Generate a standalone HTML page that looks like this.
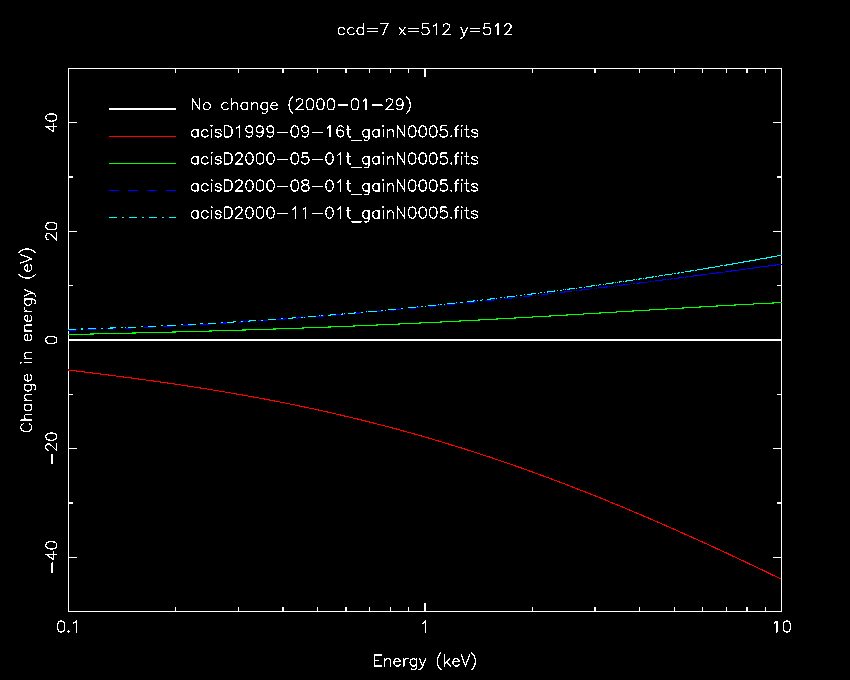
<!DOCTYPE html>
<html><head><meta charset="utf-8"><style>
html,body{margin:0;padding:0;background:#000;width:850px;height:680px;overflow:hidden;font-family:"Liberation Sans",sans-serif}
svg{display:block}
</style></head><body>
<svg width="850" height="680" viewBox="0 0 850 680">
<rect width="850" height="680" fill="#000"/>
<g fill="none" shape-rendering="crispEdges">
<path stroke="#fff" stroke-width="1.3" d="M68.42 68.4H781.58V611.6H68.42ZM175.76 611.6V607.36M175.76 68.4V72.64M238.55 611.6V607.36M238.55 68.4V72.64M283.1 611.6V607.36M283.1 68.4V72.64M317.66 611.6V607.36M317.66 68.4V72.64M345.89 611.6V607.36M345.89 68.4V72.64M369.77 611.6V607.36M369.77 68.4V72.64M390.44 611.6V607.36M390.44 68.4V72.64M408.68 611.6V607.36M408.68 68.4V72.64M425 611.6V603.11M425 68.4V76.89M532.34 611.6V607.36M532.34 68.4V72.64M595.13 611.6V607.36M595.13 68.4V72.64M639.68 611.6V607.36M639.68 68.4V72.64M674.24 611.6V607.36M674.24 68.4V72.64M702.47 611.6V607.36M702.47 68.4V72.64M726.35 611.6V607.36M726.35 68.4V72.64M747.02 611.6V607.36M747.02 68.4V72.64M765.26 611.6V607.36M765.26 68.4V72.64M68.42 557.28H76.91M781.58 557.28H773.09M68.42 502.96H72.66M781.58 502.96H777.34M68.42 448.64H76.91M781.58 448.64H773.09M68.42 394.32H72.66M781.58 394.32H777.34M68.42 340H76.91M781.58 340H773.09M68.42 285.68H72.66M781.58 285.68H777.34M68.42 231.36H76.91M781.58 231.36H773.09M68.42 177.04H72.66M781.58 177.04H777.34M68.42 122.72H76.91M781.58 122.72H773.09"/>
<path stroke="#fff" stroke-width="1.3" d="M68.42 340H781.58M109 109.1H176"/>
<path stroke="#f00" stroke-width="1.1" d="M68.42 370.03L70.42 370.27L72.42 370.52L74.42 370.76L76.42 371.01L78.42 371.25L80.42 371.5L82.42 371.75L84.42 372L86.42 372.24L88.42 372.49L90.42 372.74L92.42 372.99L94.42 373.24L96.42 373.5L98.42 373.75L100.42 374L102.42 374.25L104.42 374.51L106.42 374.76L108.42 375.02L110.42 375.28L112.42 375.53L114.42 375.79L116.42 376.05L118.42 376.31L120.42 376.57L122.42 376.83L124.42 377.1L126.42 377.36L128.42 377.62L130.42 377.89L132.42 378.16L134.42 378.42L136.42 378.69L138.42 378.96L140.42 379.24L142.42 379.51L144.42 379.78L146.42 380.06L148.42 380.33L150.42 380.61L152.42 380.89L154.42 381.17L156.42 381.45L158.42 381.73L160.42 382.01L162.42 382.3L164.42 382.59L166.42 382.87L168.42 383.16L170.42 383.45L172.42 383.74L174.42 384.04L176.42 384.33L178.42 384.63L180.42 384.93L182.42 385.23L184.42 385.53L186.42 385.83L188.42 386.13L190.42 386.44L192.42 386.75L194.42 387.06L196.42 387.37L198.42 387.68L200.42 387.99L202.42 388.31L204.42 388.63L206.42 388.94L208.42 389.27L210.42 389.59L212.42 389.91L214.42 390.24L216.42 390.57L218.42 390.9L220.42 391.23L222.42 391.56L224.42 391.9L226.42 392.23L228.42 392.57L230.42 392.91L232.42 393.26L234.42 393.6L236.42 393.95L238.42 394.3L240.42 394.65L242.42 395L244.42 395.36L246.42 395.71L248.42 396.07L250.42 396.43L252.42 396.8L254.42 397.16L256.42 397.53L258.42 397.9L260.42 398.27L262.42 398.64L264.42 399.02L266.42 399.4L268.42 399.78L270.42 400.16L272.42 400.54L274.42 400.93L276.42 401.32L278.42 401.71L280.42 402.1L282.42 402.5L284.42 402.9L286.42 403.3L288.42 403.7L290.42 404.1L292.42 404.51L294.42 404.92L296.42 405.33L298.42 405.74L300.42 406.16L302.42 406.58L304.42 407L306.42 407.42L308.42 407.85L310.42 408.28L312.42 408.71L314.42 409.14L316.42 409.58L318.42 410.01L320.42 410.45L322.42 410.9L324.42 411.34L326.42 411.79L328.42 412.24L330.42 412.69L332.42 413.15L334.42 413.6L336.42 414.06L338.42 414.53L340.42 414.99L342.42 415.46L344.42 415.93L346.42 416.4L348.42 416.88L350.42 417.35L352.42 417.83L354.42 418.32L356.42 418.8L358.42 419.29L360.42 419.78L362.42 420.27L364.42 420.77L366.42 421.27L368.42 421.77L370.42 422.27L372.42 422.78L374.42 423.29L376.42 423.8L378.42 424.31L380.42 424.83L382.42 425.35L384.42 425.87L386.42 426.39L388.42 426.92L390.42 427.45L392.42 427.98L394.42 428.52L396.42 429.06L398.42 429.6L400.42 430.14L402.42 430.69L404.42 431.24L406.42 431.79L408.42 432.34L410.42 432.9L412.42 433.46L414.42 434.02L416.42 434.58L418.42 435.15L420.42 435.72L422.42 436.29L424.42 436.87L426.42 437.45L428.42 438.03L430.42 438.61L432.42 439.2L434.42 439.79L436.42 440.38L438.42 440.97L440.42 441.57L442.42 442.17L444.42 442.78L446.42 443.38L448.42 443.99L450.42 444.6L452.42 445.21L454.42 445.83L456.42 446.45L458.42 447.07L460.42 447.7L462.42 448.32L464.42 448.95L466.42 449.59L468.42 450.22L470.42 450.86L472.42 451.5L474.42 452.14L476.42 452.79L478.42 453.44L480.42 454.09L482.42 454.74L484.42 455.4L486.42 456.06L488.42 456.72L490.42 457.39L492.42 458.06L494.42 458.73L496.42 459.4L498.42 460.08L500.42 460.76L502.42 461.44L504.42 462.12L506.42 462.81L508.42 463.5L510.42 464.19L512.42 464.89L514.42 465.58L516.42 466.28L518.42 466.99L520.42 467.69L522.42 468.4L524.42 469.11L526.42 469.82L528.42 470.54L530.42 471.26L532.42 471.98L534.42 472.7L536.42 473.43L538.42 474.16L540.42 474.89L542.42 475.62L544.42 476.36L546.42 477.1L548.42 477.84L550.42 478.59L552.42 479.33L554.42 480.08L556.42 480.84L558.42 481.59L560.42 482.35L562.42 483.11L564.42 483.87L566.42 484.63L568.42 485.4L570.42 486.17L572.42 486.94L574.42 487.72L576.42 488.5L578.42 489.28L580.42 490.06L582.42 490.84L584.42 491.63L586.42 492.42L588.42 493.21L590.42 494.01L592.42 494.8L594.42 495.6L596.42 496.4L598.42 497.21L600.42 498.01L602.42 498.82L604.42 499.63L606.42 500.45L608.42 501.26L610.42 502.08L612.42 502.9L614.42 503.72L616.42 504.55L618.42 505.37L620.42 506.2L622.42 507.04L624.42 507.87L626.42 508.71L628.42 509.54L630.42 510.38L632.42 511.23L634.42 512.07L636.42 512.92L638.42 513.77L640.42 514.62L642.42 515.47L644.42 516.33L646.42 517.19L648.42 518.05L650.42 518.91L652.42 519.77L654.42 520.64L656.42 521.51L658.42 522.38L660.42 523.25L662.42 524.13L664.42 525L666.42 525.88L668.42 526.76L670.42 527.64L672.42 528.53L674.42 529.41L676.42 530.3L678.42 531.19L680.42 532.08L682.42 532.98L684.42 533.87L686.42 534.77L688.42 535.67L690.42 536.57L692.42 537.47L694.42 538.38L696.42 539.28L698.42 540.19L700.42 541.1L702.42 542.01L704.42 542.92L706.42 543.84L708.42 544.75L710.42 545.67L712.42 546.59L714.42 547.51L716.42 548.44L718.42 549.36L720.42 550.29L722.42 551.21L724.42 552.14L726.42 553.07L728.42 554.01L730.42 554.94L732.42 555.87L734.42 556.81L736.42 557.75L738.42 558.69L740.42 559.63L742.42 560.57L744.42 561.51L746.42 562.46L748.42 563.4L750.42 564.35L752.42 565.3L754.42 566.25L756.42 567.2L758.42 568.15L760.42 569.11L762.42 570.06L764.42 571.02L766.42 571.97L768.42 572.93L770.42 573.89L772.42 574.85L774.42 575.81L776.42 576.77L778.42 577.73L780.42 578.7L781.58 579.26"/>
<path stroke="#f00" stroke-width="1.3" d="M109 136.2H176"/>
<path stroke="#0f0" stroke-width="1.1" d="M68.42 334.57L70.42 334.52L72.42 334.47L74.42 334.42L76.42 334.38L78.42 334.33L80.42 334.28L82.42 334.24L84.42 334.19L86.42 334.14L88.42 334.09L90.42 334.05L92.42 334L94.42 333.95L96.42 333.91L98.42 333.86L100.42 333.81L102.42 333.76L104.42 333.72L106.42 333.67L108.42 333.62L110.42 333.58L112.42 333.53L114.42 333.48L116.42 333.43L118.42 333.38L120.42 333.34L122.42 333.29L124.42 333.24L126.42 333.19L128.42 333.14L130.42 333.1L132.42 333.05L134.42 333L136.42 332.95L138.42 332.9L140.42 332.85L142.42 332.8L144.42 332.75L146.42 332.7L148.42 332.66L150.42 332.61L152.42 332.56L154.42 332.51L156.42 332.46L158.42 332.4L160.42 332.35L162.42 332.3L164.42 332.25L166.42 332.2L168.42 332.15L170.42 332.1L172.42 332.05L174.42 331.99L176.42 331.94L178.42 331.89L180.42 331.84L182.42 331.78L184.42 331.73L186.42 331.68L188.42 331.62L190.42 331.57L192.42 331.51L194.42 331.46L196.42 331.4L198.42 331.35L200.42 331.29L202.42 331.24L204.42 331.18L206.42 331.13L208.42 331.07L210.42 331.01L212.42 330.96L214.42 330.9L216.42 330.84L218.42 330.78L220.42 330.72L222.42 330.67L224.42 330.61L226.42 330.55L228.42 330.49L230.42 330.43L232.42 330.37L234.42 330.31L236.42 330.25L238.42 330.18L240.42 330.12L242.42 330.06L244.42 330L246.42 329.94L248.42 329.87L250.42 329.81L252.42 329.75L254.42 329.68L256.42 329.62L258.42 329.55L260.42 329.49L262.42 329.42L264.42 329.36L266.42 329.29L268.42 329.23L270.42 329.16L272.42 329.09L274.42 329.02L276.42 328.96L278.42 328.89L280.42 328.82L282.42 328.75L284.42 328.68L286.42 328.61L288.42 328.54L290.42 328.47L292.42 328.4L294.42 328.33L296.42 328.26L298.42 328.18L300.42 328.11L302.42 328.04L304.42 327.96L306.42 327.89L308.42 327.82L310.42 327.74L312.42 327.67L314.42 327.59L316.42 327.52L318.42 327.44L320.42 327.36L322.42 327.29L324.42 327.21L326.42 327.13L328.42 327.05L330.42 326.97L332.42 326.89L334.42 326.82L336.42 326.74L338.42 326.66L340.42 326.57L342.42 326.49L344.42 326.41L346.42 326.33L348.42 326.25L350.42 326.16L352.42 326.08L354.42 326L356.42 325.91L358.42 325.83L360.42 325.74L362.42 325.66L364.42 325.57L366.42 325.49L368.42 325.4L370.42 325.31L372.42 325.23L374.42 325.14L376.42 325.05L378.42 324.96L380.42 324.87L382.42 324.78L384.42 324.69L386.42 324.6L388.42 324.51L390.42 324.42L392.42 324.33L394.42 324.24L396.42 324.15L398.42 324.05L400.42 323.96L402.42 323.87L404.42 323.77L406.42 323.68L408.42 323.59L410.42 323.49L412.42 323.4L414.42 323.3L416.42 323.2L418.42 323.11L420.42 323.01L422.42 322.91L424.42 322.81L426.42 322.72L428.42 322.62L430.42 322.52L432.42 322.42L434.42 322.32L436.42 322.22L438.42 322.12L440.42 322.02L442.42 321.92L444.42 321.82L446.42 321.71L448.42 321.61L450.42 321.51L452.42 321.41L454.42 321.3L456.42 321.2L458.42 321.09L460.42 320.99L462.42 320.89L464.42 320.78L466.42 320.67L468.42 320.57L470.42 320.46L472.42 320.36L474.42 320.25L476.42 320.14L478.42 320.03L480.42 319.93L482.42 319.82L484.42 319.71L486.42 319.6L488.42 319.49L490.42 319.38L492.42 319.27L494.42 319.16L496.42 319.05L498.42 318.94L500.42 318.83L502.42 318.72L504.42 318.61L506.42 318.5L508.42 318.38L510.42 318.27L512.42 318.16L514.42 318.05L516.42 317.93L518.42 317.82L520.42 317.7L522.42 317.59L524.42 317.48L526.42 317.36L528.42 317.25L530.42 317.13L532.42 317.02L534.42 316.9L536.42 316.79L538.42 316.67L540.42 316.55L542.42 316.44L544.42 316.32L546.42 316.2L548.42 316.09L550.42 315.97L552.42 315.85L554.42 315.73L556.42 315.62L558.42 315.5L560.42 315.38L562.42 315.26L564.42 315.14L566.42 315.02L568.42 314.91L570.42 314.79L572.42 314.67L574.42 314.55L576.42 314.43L578.42 314.31L580.42 314.19L582.42 314.07L584.42 313.95L586.42 313.83L588.42 313.71L590.42 313.59L592.42 313.47L594.42 313.35L596.42 313.23L598.42 313.11L600.42 312.99L602.42 312.86L604.42 312.74L606.42 312.62L608.42 312.5L610.42 312.38L612.42 312.26L614.42 312.14L616.42 312.02L618.42 311.9L620.42 311.77L622.42 311.65L624.42 311.53L626.42 311.41L628.42 311.29L630.42 311.17L632.42 311.05L634.42 310.93L636.42 310.8L638.42 310.68L640.42 310.56L642.42 310.44L644.42 310.32L646.42 310.2L648.42 310.08L650.42 309.96L652.42 309.84L654.42 309.72L656.42 309.6L658.42 309.48L660.42 309.36L662.42 309.23L664.42 309.11L666.42 308.99L668.42 308.87L670.42 308.76L672.42 308.64L674.42 308.52L676.42 308.4L678.42 308.28L680.42 308.16L682.42 308.04L684.42 307.92L686.42 307.8L688.42 307.69L690.42 307.57L692.42 307.45L694.42 307.33L696.42 307.22L698.42 307.1L700.42 306.98L702.42 306.87L704.42 306.75L706.42 306.63L708.42 306.52L710.42 306.4L712.42 306.29L714.42 306.17L716.42 306.06L718.42 305.95L720.42 305.83L722.42 305.72L724.42 305.61L726.42 305.49L728.42 305.38L730.42 305.27L732.42 305.16L734.42 305.05L736.42 304.94L738.42 304.83L740.42 304.72L742.42 304.61L744.42 304.5L746.42 304.39L748.42 304.28L750.42 304.17L752.42 304.07L754.42 303.96L756.42 303.85L758.42 303.75L760.42 303.64L762.42 303.54L764.42 303.43L766.42 303.33L768.42 303.23L770.42 303.12L772.42 303.02L774.42 302.92L776.42 302.82L778.42 302.72L780.42 302.62L781.58 302.56"/>
<path stroke="#0f0" stroke-width="1.3" d="M109 163.3H176"/>
<path stroke="#00f" stroke-width="1.1" stroke-dasharray="10 9" d="M68.42 330.18L70.42 330.12L72.42 330.06L74.42 330L76.42 329.94L78.42 329.88L80.42 329.82L82.42 329.76L84.42 329.69L86.42 329.63L88.42 329.56L90.42 329.5L92.42 329.43L94.42 329.36L96.42 329.29L98.42 329.22L100.42 329.15L102.42 329.08L104.42 329L106.42 328.93L108.42 328.86L110.42 328.78L112.42 328.7L114.42 328.63L116.42 328.55L118.42 328.47L120.42 328.39L122.42 328.31L124.42 328.23L126.42 328.14L128.42 328.06L130.42 327.98L132.42 327.89L134.42 327.8L136.42 327.72L138.42 327.63L140.42 327.54L142.42 327.45L144.42 327.36L146.42 327.27L148.42 327.18L150.42 327.08L152.42 326.99L154.42 326.9L156.42 326.8L158.42 326.7L160.42 326.61L162.42 326.51L164.42 326.41L166.42 326.31L168.42 326.21L170.42 326.11L172.42 326.01L174.42 325.9L176.42 325.8L178.42 325.69L180.42 325.59L182.42 325.48L184.42 325.38L186.42 325.27L188.42 325.16L190.42 325.05L192.42 324.94L194.42 324.83L196.42 324.72L198.42 324.6L200.42 324.49L202.42 324.37L204.42 324.26L206.42 324.14L208.42 324.03L210.42 323.91L212.42 323.79L214.42 323.67L216.42 323.55L218.42 323.43L220.42 323.31L222.42 323.19L224.42 323.06L226.42 322.94L228.42 322.81L230.42 322.69L232.42 322.56L234.42 322.43L236.42 322.31L238.42 322.18L240.42 322.05L242.42 321.92L244.42 321.79L246.42 321.65L248.42 321.52L250.42 321.39L252.42 321.25L254.42 321.12L256.42 320.98L258.42 320.85L260.42 320.71L262.42 320.57L264.42 320.43L266.42 320.29L268.42 320.15L270.42 320.01L272.42 319.87L274.42 319.73L276.42 319.58L278.42 319.44L280.42 319.3L282.42 319.15L284.42 319L286.42 318.86L288.42 318.71L290.42 318.56L292.42 318.41L294.42 318.26L296.42 318.11L298.42 317.96L300.42 317.81L302.42 317.66L304.42 317.5L306.42 317.35L308.42 317.19L310.42 317.04L312.42 316.88L314.42 316.72L316.42 316.57L318.42 316.41L320.42 316.25L322.42 316.09L324.42 315.93L326.42 315.77L328.42 315.61L330.42 315.44L332.42 315.28L334.42 315.12L336.42 314.95L338.42 314.79L340.42 314.62L342.42 314.45L344.42 314.28L346.42 314.12L348.42 313.95L350.42 313.78L352.42 313.61L354.42 313.44L356.42 313.27L358.42 313.09L360.42 312.92L362.42 312.75L364.42 312.57L366.42 312.4L368.42 312.22L370.42 312.05L372.42 311.87L374.42 311.69L376.42 311.51L378.42 311.33L380.42 311.15L382.42 310.97L384.42 310.79L386.42 310.61L388.42 310.43L390.42 310.25L392.42 310.06L394.42 309.88L396.42 309.69L398.42 309.51L400.42 309.32L402.42 309.14L404.42 308.95L406.42 308.76L408.42 308.57L410.42 308.38L412.42 308.19L414.42 308L416.42 307.81L418.42 307.62L420.42 307.43L422.42 307.23L424.42 307.04L426.42 306.85L428.42 306.65L430.42 306.46L432.42 306.26L434.42 306.06L436.42 305.87L438.42 305.67L440.42 305.47L442.42 305.27L444.42 305.07L446.42 304.87L448.42 304.67L450.42 304.47L452.42 304.26L454.42 304.06L456.42 303.86L458.42 303.66L460.42 303.45L462.42 303.25L464.42 303.04L466.42 302.83L468.42 302.63L470.42 302.42L472.42 302.21L474.42 302L476.42 301.79L478.42 301.58L480.42 301.37L482.42 301.16L484.42 300.95L486.42 300.74L488.42 300.53L490.42 300.31L492.42 300.1L494.42 299.89L496.42 299.67L498.42 299.46L500.42 299.24L502.42 299.02L504.42 298.81L506.42 298.59L508.42 298.37L510.42 298.15L512.42 297.93L514.42 297.71L516.42 297.49L518.42 297.27L520.42 297.05L522.42 296.83L524.42 296.61L526.42 296.38L528.42 296.16L530.42 295.94L532.42 295.71L534.42 295.49L536.42 295.26L538.42 295.04L540.42 294.81L542.42 294.58L544.42 294.35L546.42 294.13L548.42 293.9L550.42 293.67L552.42 293.44L554.42 293.21L556.42 292.98L558.42 292.75L560.42 292.51L562.42 292.28L564.42 292.05L566.42 291.82L568.42 291.58L570.42 291.35L572.42 291.11L574.42 290.88L576.42 290.64L578.42 290.41L580.42 290.17L582.42 289.93L584.42 289.69L586.42 289.46L588.42 289.22L590.42 288.98L592.42 288.74L594.42 288.5L596.42 288.26L598.42 288.02L600.42 287.78L602.42 287.53L604.42 287.29L606.42 287.05L608.42 286.81L610.42 286.56L612.42 286.32L614.42 286.07L616.42 285.83L618.42 285.58L620.42 285.34L622.42 285.09L624.42 284.84L626.42 284.6L628.42 284.35L630.42 284.1L632.42 283.85L634.42 283.6L636.42 283.35L638.42 283.1L640.42 282.85L642.42 282.6L644.42 282.35L646.42 282.1L648.42 281.85L650.42 281.59L652.42 281.34L654.42 281.09L656.42 280.83L658.42 280.58L660.42 280.32L662.42 280.07L664.42 279.81L666.42 279.56L668.42 279.3L670.42 279.04L672.42 278.79L674.42 278.53L676.42 278.27L678.42 278.01L680.42 277.75L682.42 277.49L684.42 277.23L686.42 276.97L688.42 276.71L690.42 276.45L692.42 276.19L694.42 275.93L696.42 275.67L698.42 275.41L700.42 275.14L702.42 274.88L704.42 274.62L706.42 274.35L708.42 274.09L710.42 273.82L712.42 273.56L714.42 273.29L716.42 273.03L718.42 272.76L720.42 272.49L722.42 272.23L724.42 271.96L726.42 271.69L728.42 271.42L730.42 271.16L732.42 270.89L734.42 270.62L736.42 270.35L738.42 270.08L740.42 269.81L742.42 269.54L744.42 269.27L746.42 269L748.42 268.73L750.42 268.45L752.42 268.18L754.42 267.91L756.42 267.64L758.42 267.36L760.42 267.09L762.42 266.82L764.42 266.54L766.42 266.27L768.42 265.99L770.42 265.72L772.42 265.44L774.42 265.17L776.42 264.89L778.42 264.61L780.42 264.34L781.58 264.18"/>
<path stroke="#00f" stroke-width="1.3" stroke-dasharray="10 9" d="M109 190.4H176"/>
<path stroke="#00f" stroke-width="1.3" d="M68 330.5h1M125 328.5h1M167 326.5h1M200 324.5h1M227 322.5h1M250 321.5h1M271 319.5h1M288 318.5h1M304 317.5h1M319 316.5h1M332 315.5h1M344 314.5h1M355 313.5h1M366 312.5h1M376 311.5h1M385 310.5h1M394 309.5h1M402 309.5h1M410 308.5h1M417 307.5h1M425 306.5h1M431 306.5h1M438 305.5h1M444 305.5h1M450 304.5h1M456 303.5h1M462 303.5h1M467 302.5h1M472 302.5h1M477 301.5h1M482 301.5h1M487 300.5h1M491 300.5h1M496 299.5h1M500 299.5h1M504 298.5h1M508 298.5h1M512 297.5h1M516 297.5h1M520 297.5h1M524 296.5h1M528 296.5h1M531 295.5h1M535 295.5h1M538 295.5h1M541 294.5h1M544 294.5h1M548 293.5h1M551 293.5h1M554 293.5h1M557 292.5h1M560 292.5h1M563 292.5h1M565 291.5h1M568 291.5h1M571 291.5h1M574 290.5h1M576 290.5h1M579 290.5h1M581 289.5h1M584 289.5h1M586 289.5h1M589 289.5h1M591 288.5h1M594 288.5h1M596 288.5h1M598 287.5h1M600 287.5h1M603 287.5h1M605 287.5h1M607 286.5h1M609 286.5h1M611 286.5h1M613 286.5h1M615 285.5h1M617 285.5h1M619 285.5h1M621 285.5h1M623 284.5h1M625 284.5h1M627 284.5h1M629 284.5h1M631 283.5h1M633 283.5h1M634 283.5h1M636 283.5h1M638 283.5h1M640 282.5h1M641 282.5h1M643 282.5h1M645 282.5h1M647 282.5h1M648 281.5h1M650 281.5h1M651 281.5h1M653 281.5h1M655 280.5h1M656 280.5h1M658 280.5h1M659 280.5h1M661 280.5h1M662 280.5h1M664 279.5h1M665 279.5h1M667 279.5h1M668 279.5h1M670 279.5h1M671 278.5h1M672 278.5h1M674 278.5h1M675 278.5h1M677 278.5h1M678 277.5h1M679 277.5h1M681 277.5h1M682 277.5h1M683 277.5h1M685 277.5h1M686 276.5h1M687 276.5h1M688 276.5h1M690 276.5h1M691 276.5h1M692 276.5h1M693 275.5h1M695 275.5h1M696 275.5h1M697 275.5h1M698 275.5h1M700 275.5h1M701 275.5h1M702 274.5h1M703 274.5h1M704 274.5h1M705 274.5h1M706 274.5h1M708 274.5h1M709 273.5h1M710 273.5h1M711 273.5h1M712 273.5h1M713 273.5h1M714 273.5h1M715 273.5h1M716 272.5h1M717 272.5h1M718 272.5h1M719 272.5h1M720 272.5h1M721 272.5h1M722 272.5h1M724 272.5h1M725 271.5h1M726 271.5h1M727 271.5h1M727 271.5h1M728 271.5h1M729 271.5h1M730 271.5h1M731 270.5h1M732 270.5h1M733 270.5h1M734 270.5h1M735 270.5h1M736 270.5h1M737 270.5h1M738 270.5h1M739 269.5h1M740 269.5h1M741 269.5h1M742 269.5h1M743 269.5h1M743 269.5h1M744 269.5h1M745 269.5h1M746 268.5h1M747 268.5h1M748 268.5h1M749 268.5h1M749 268.5h1M750 268.5h1M751 268.5h1M752 268.5h1M753 268.5h1M754 267.5h1M755 267.5h1M755 267.5h1M756 267.5h1M757 267.5h1M758 267.5h1M759 267.5h1M759 267.5h1M760 267.5h1M761 266.5h1M762 266.5h1M763 266.5h1M763 266.5h1M764 266.5h1M765 266.5h1M766 266.5h1M766 266.5h1M767 266.5h1M768 265.5h1M769 265.5h1M770 265.5h1M770 265.5h1M771 265.5h1M772 265.5h1M772 265.5h1M773 265.5h1M774 265.5h1M775 265.5h1M775 264.5h1M776 264.5h1M777 264.5h1M778 264.5h1M778 264.5h1M779 264.5h1M780 264.5h1M780 264.5h1M781 264.5h1"/>
<path stroke="#0ff" stroke-width="1.1" stroke-dasharray="8 5 2 5" d="M68.42 329.4L70.42 329.35L72.42 329.29L74.42 329.23L76.42 329.17L78.42 329.12L80.42 329.06L82.42 328.99L84.42 328.93L86.42 328.87L88.42 328.81L90.42 328.74L92.42 328.68L94.42 328.61L96.42 328.55L98.42 328.48L100.42 328.41L102.42 328.34L104.42 328.27L106.42 328.2L108.42 328.13L110.42 328.06L112.42 327.98L114.42 327.91L116.42 327.84L118.42 327.76L120.42 327.68L122.42 327.61L124.42 327.53L126.42 327.45L128.42 327.37L130.42 327.29L132.42 327.21L134.42 327.13L136.42 327.04L138.42 326.96L140.42 326.87L142.42 326.79L144.42 326.7L146.42 326.62L148.42 326.53L150.42 326.44L152.42 326.35L154.42 326.26L156.42 326.17L158.42 326.08L160.42 325.98L162.42 325.89L164.42 325.8L166.42 325.7L168.42 325.6L170.42 325.51L172.42 325.41L174.42 325.31L176.42 325.21L178.42 325.11L180.42 325.01L182.42 324.91L184.42 324.8L186.42 324.7L188.42 324.6L190.42 324.49L192.42 324.39L194.42 324.28L196.42 324.17L198.42 324.06L200.42 323.95L202.42 323.84L204.42 323.73L206.42 323.62L208.42 323.51L210.42 323.39L212.42 323.28L214.42 323.16L216.42 323.05L218.42 322.93L220.42 322.81L222.42 322.69L224.42 322.57L226.42 322.45L228.42 322.33L230.42 322.21L232.42 322.09L234.42 321.96L236.42 321.84L238.42 321.71L240.42 321.59L242.42 321.46L244.42 321.33L246.42 321.2L248.42 321.07L250.42 320.94L252.42 320.81L254.42 320.68L256.42 320.55L258.42 320.41L260.42 320.28L262.42 320.14L264.42 320.01L266.42 319.87L268.42 319.73L270.42 319.59L272.42 319.45L274.42 319.31L276.42 319.17L278.42 319.03L280.42 318.89L282.42 318.74L284.42 318.6L286.42 318.45L288.42 318.3L290.42 318.16L292.42 318.01L294.42 317.86L296.42 317.71L298.42 317.56L300.42 317.41L302.42 317.25L304.42 317.1L306.42 316.95L308.42 316.79L310.42 316.64L312.42 316.48L314.42 316.32L316.42 316.16L318.42 316L320.42 315.84L322.42 315.68L324.42 315.52L326.42 315.36L328.42 315.19L330.42 315.03L332.42 314.86L334.42 314.7L336.42 314.53L338.42 314.36L340.42 314.19L342.42 314.02L344.42 313.85L346.42 313.68L348.42 313.51L350.42 313.34L352.42 313.16L354.42 312.99L356.42 312.81L358.42 312.63L360.42 312.46L362.42 312.28L364.42 312.1L366.42 311.92L368.42 311.74L370.42 311.56L372.42 311.37L374.42 311.19L376.42 311.01L378.42 310.82L380.42 310.63L382.42 310.45L384.42 310.26L386.42 310.07L388.42 309.88L390.42 309.69L392.42 309.5L394.42 309.31L396.42 309.11L398.42 308.92L400.42 308.72L402.42 308.53L404.42 308.33L406.42 308.13L408.42 307.94L410.42 307.74L412.42 307.54L414.42 307.34L416.42 307.13L418.42 306.93L420.42 306.73L422.42 306.52L424.42 306.32L426.42 306.11L428.42 305.9L430.42 305.7L432.42 305.49L434.42 305.28L436.42 305.07L438.42 304.86L440.42 304.64L442.42 304.43L444.42 304.22L446.42 304L448.42 303.78L450.42 303.57L452.42 303.35L454.42 303.13L456.42 302.91L458.42 302.69L460.42 302.47L462.42 302.25L464.42 302.03L466.42 301.8L468.42 301.58L470.42 301.35L472.42 301.12L474.42 300.9L476.42 300.67L478.42 300.44L480.42 300.21L482.42 299.98L484.42 299.75L486.42 299.51L488.42 299.28L490.42 299.05L492.42 298.81L494.42 298.57L496.42 298.34L498.42 298.1L500.42 297.86L502.42 297.62L504.42 297.38L506.42 297.14L508.42 296.89L510.42 296.65L512.42 296.41L514.42 296.16L516.42 295.91L518.42 295.67L520.42 295.42L522.42 295.17L524.42 294.92L526.42 294.67L528.42 294.42L530.42 294.17L532.42 293.91L534.42 293.66L536.42 293.4L538.42 293.15L540.42 292.89L542.42 292.63L544.42 292.37L546.42 292.11L548.42 291.85L550.42 291.59L552.42 291.33L554.42 291.07L556.42 290.8L558.42 290.54L560.42 290.27L562.42 290L564.42 289.74L566.42 289.47L568.42 289.2L570.42 288.93L572.42 288.66L574.42 288.38L576.42 288.11L578.42 287.84L580.42 287.56L582.42 287.29L584.42 287.01L586.42 286.73L588.42 286.45L590.42 286.17L592.42 285.89L594.42 285.61L596.42 285.33L598.42 285.04L600.42 284.76L602.42 284.48L604.42 284.19L606.42 283.9L608.42 283.61L610.42 283.33L612.42 283.04L614.42 282.75L616.42 282.45L618.42 282.16L620.42 281.87L622.42 281.57L624.42 281.28L626.42 280.98L628.42 280.69L630.42 280.39L632.42 280.09L634.42 279.79L636.42 279.49L638.42 279.19L640.42 278.89L642.42 278.58L644.42 278.28L646.42 277.97L648.42 277.67L650.42 277.36L652.42 277.05L654.42 276.74L656.42 276.43L658.42 276.12L660.42 275.81L662.42 275.5L664.42 275.18L666.42 274.87L668.42 274.55L670.42 274.24L672.42 273.92L674.42 273.6L676.42 273.28L678.42 272.96L680.42 272.64L682.42 272.32L684.42 272L686.42 271.67L688.42 271.35L690.42 271.02L692.42 270.7L694.42 270.37L696.42 270.04L698.42 269.71L700.42 269.38L702.42 269.05L704.42 268.72L706.42 268.39L708.42 268.05L710.42 267.72L712.42 267.38L714.42 267.04L716.42 266.71L718.42 266.37L720.42 266.03L722.42 265.69L724.42 265.35L726.42 265L728.42 264.66L730.42 264.32L732.42 263.97L734.42 263.62L736.42 263.28L738.42 262.93L740.42 262.58L742.42 262.23L744.42 261.88L746.42 261.53L748.42 261.18L750.42 260.82L752.42 260.47L754.42 260.11L756.42 259.76L758.42 259.4L760.42 259.04L762.42 258.68L764.42 258.32L766.42 257.96L768.42 257.6L770.42 257.23L772.42 256.87L774.42 256.5L776.42 256.14L778.42 255.77L780.42 255.4L781.58 255.19"/>
<path stroke="#0ff" stroke-width="1.3" d="M68 329.5h1M125 327.5h1M167 325.5h1M200 323.5h1M227 322.5h1M250 320.5h1M271 319.5h1M288 318.5h1M304 317.5h1M319 315.5h1M332 314.5h1M344 313.5h1M355 312.5h1M366 311.5h1M376 311.5h1M385 310.5h1M394 309.5h1M402 308.5h1M410 307.5h1M417 306.5h1M425 306.5h1M431 305.5h1M438 304.5h1M444 304.5h1M450 303.5h1M456 302.5h1M462 302.5h1M467 301.5h1M472 301.5h1M477 300.5h1M482 299.5h1M487 299.5h1M491 298.5h1M496 298.5h1M500 297.5h1M504 297.5h1M508 296.5h1M512 296.5h1M516 295.5h1M520 295.5h1M524 294.5h1M528 294.5h1M531 294.5h1M535 293.5h1M538 293.5h1M541 292.5h1M544 292.5h1M548 291.5h1M551 291.5h1M554 291.5h1M557 290.5h1M560 290.5h1M563 289.5h1M565 289.5h1M568 289.5h1M571 288.5h1M574 288.5h1M576 288.5h1M579 287.5h1M581 287.5h1M584 287.5h1M586 286.5h1M589 286.5h1M591 285.5h1M594 285.5h1M596 285.5h1M598 285.5h1M600 284.5h1M603 284.5h1M605 284.5h1M607 283.5h1M609 283.5h1M611 283.5h1M613 282.5h1M615 282.5h1M617 282.5h1M619 281.5h1M621 281.5h1M623 281.5h1M625 281.5h1M627 280.5h1M629 280.5h1M631 280.5h1M633 279.5h1M634 279.5h1M636 279.5h1M638 279.5h1M640 278.5h1M641 278.5h1M643 278.5h1M645 278.5h1M647 277.5h1M648 277.5h1M650 277.5h1M651 277.5h1M653 276.5h1M655 276.5h1M656 276.5h1M658 276.5h1M659 275.5h1M661 275.5h1M662 275.5h1M664 275.5h1M665 274.5h1M667 274.5h1M668 274.5h1M670 274.5h1M671 274.5h1M672 273.5h1M674 273.5h1M675 273.5h1M677 273.5h1M678 272.5h1M679 272.5h1M681 272.5h1M682 272.5h1M683 272.5h1M685 271.5h1M686 271.5h1M687 271.5h1M688 271.5h1M690 271.5h1M691 270.5h1M692 270.5h1M693 270.5h1M695 270.5h1M696 270.5h1M697 269.5h1M698 269.5h1M700 269.5h1M701 269.5h1M702 269.5h1M703 268.5h1M704 268.5h1M705 268.5h1M706 268.5h1M708 268.5h1M709 267.5h1M710 267.5h1M711 267.5h1M712 267.5h1M713 267.5h1M714 267.5h1M715 266.5h1M716 266.5h1M717 266.5h1M718 266.5h1M719 266.5h1M720 265.5h1M721 265.5h1M722 265.5h1M724 265.5h1M725 265.5h1M726 265.5h1M727 264.5h1M727 264.5h1M728 264.5h1M729 264.5h1M730 264.5h1M731 264.5h1M732 263.5h1M733 263.5h1M734 263.5h1M735 263.5h1M736 263.5h1M737 263.5h1M738 262.5h1M739 262.5h1M740 262.5h1M741 262.5h1M742 262.5h1M743 262.5h1M743 261.5h1M744 261.5h1M745 261.5h1M746 261.5h1M747 261.5h1M748 261.5h1M749 261.5h1M749 260.5h1M750 260.5h1M751 260.5h1M752 260.5h1M753 260.5h1M754 260.5h1M755 260.5h1M755 259.5h1M756 259.5h1M757 259.5h1M758 259.5h1M759 259.5h1M759 259.5h1M760 258.5h1M761 258.5h1M762 258.5h1M763 258.5h1M763 258.5h1M764 258.5h1M765 258.5h1M766 257.5h1M766 257.5h1M767 257.5h1M768 257.5h1M769 257.5h1M770 257.5h1M770 257.5h1M771 257.5h1M772 256.5h1M772 256.5h1M773 256.5h1M774 256.5h1M775 256.5h1M775 256.5h1M776 256.5h1M777 255.5h1M778 255.5h1M778 255.5h1M779 255.5h1M780 255.5h1M780 255.5h1M781 255.5h1"/>
<path stroke="#0ff" stroke-width="1.3" stroke-dasharray="8 5 2 5" d="M109 217.5H176"/>
<path stroke="#fff" stroke-width="1.3" stroke-linecap="round" stroke-linejoin="round" d="M344.61 29.06L343.57 28.01L342.52 27.49L340.96 27.49L339.91 28.01L338.87 29.06L338.35 30.62L338.35 31.67L338.87 33.23L339.91 34.28L340.96 34.8L342.52 34.8L343.57 34.28L344.61 33.23M354.01 29.06L352.96 28.01L351.92 27.49L350.35 27.49L349.31 28.01L348.27 29.06L347.74 30.62L347.74 31.67L348.27 33.23L349.31 34.28L350.35 34.8L351.92 34.8L352.96 34.28L354.01 33.23M363.4 23.84L363.4 34.8M363.4 29.06L362.36 28.01L361.32 27.49L359.75 27.49L358.71 28.01L357.66 29.06L357.14 30.62L357.14 31.67L357.66 33.23L358.71 34.28L359.75 34.8L361.32 34.8L362.36 34.28L363.4 33.23M367.58 28.54L376.98 28.54M367.58 31.67L376.98 31.67M387.94 23.84L382.72 34.8M380.63 23.84L387.94 23.84M399.42 27.49L405.16 34.8M405.16 27.49L399.42 34.8M408.82 28.54L418.21 28.54M408.82 31.67L418.21 31.67M428.13 23.84L422.91 23.84L422.39 28.54L422.91 28.01L424.48 27.49L426.04 27.49L427.61 28.01L428.65 29.06L429.18 30.62L429.18 31.67L428.65 33.23L427.61 34.28L426.04 34.8L424.48 34.8L422.91 34.28L422.39 33.76L421.87 32.71M433.87 25.93L434.92 25.4L436.48 23.84L436.48 34.8M443.27 26.45L443.27 25.93L443.79 24.88L444.31 24.36L445.36 23.84L447.45 23.84L448.49 24.36L449.01 24.88L449.53 25.93L449.53 26.97L449.01 28.01L447.97 29.58L442.75 34.8L450.06 34.8M461.02 27.49L464.15 34.8M467.28 27.49L464.15 34.8L463.11 36.89L462.06 37.93L461.02 38.45L460.5 38.45M470.41 28.54L479.81 28.54M470.41 31.67L479.81 31.67M489.73 23.84L484.51 23.84L483.99 28.54L484.51 28.01L486.07 27.49L487.64 27.49L489.21 28.01L490.25 29.06L490.77 30.62L490.77 31.67L490.25 33.23L489.21 34.28L487.64 34.8L486.07 34.8L484.51 34.28L483.99 33.76L483.46 32.71M495.47 25.93L496.51 25.4L498.08 23.84L498.08 34.8M504.87 26.45L504.87 25.93L505.39 24.88L505.91 24.36L506.95 23.84L509.04 23.84L510.09 24.36L510.61 24.88L511.13 25.93L511.13 26.97L510.61 28.01L509.56 29.58L504.34 34.8L511.65 34.8M374.63 655.04L374.63 666M374.63 655.04L381.41 655.04M374.63 660.26L378.8 660.26M374.63 666L381.41 666M384.55 658.69L384.55 666M384.55 660.78L386.11 659.21L387.15 658.69L388.72 658.69L389.76 659.21L390.29 660.78L390.29 666M393.94 661.82L400.2 661.82L400.2 660.78L399.68 659.74L399.16 659.21L398.12 658.69L396.55 658.69L395.51 659.21L394.46 660.26L393.94 661.82L393.94 662.87L394.46 664.43L395.51 665.48L396.55 666L398.12 666L399.16 665.48L400.2 664.43M403.86 658.69L403.86 666M403.86 661.82L404.38 660.26L405.43 659.21L406.47 658.69L408.04 658.69M416.39 658.69L416.39 667.04L415.87 668.61L415.34 669.13L414.3 669.65L412.73 669.65L411.69 669.13M416.39 660.26L415.34 659.21L414.3 658.69L412.73 658.69L411.69 659.21L410.64 660.26L410.12 661.82L410.12 662.87L410.64 664.43L411.69 665.48L412.73 666L414.3 666L415.34 665.48L416.39 664.43M419.52 658.69L422.65 666M425.78 658.69L422.65 666L421.61 668.09L420.56 669.13L419.52 669.65L419 669.65M440.92 652.95L439.88 653.99L438.83 655.56L437.79 657.65L437.27 660.26L437.27 662.35L437.79 664.96L438.83 667.04L439.88 668.61L440.92 669.65M444.57 655.04L444.57 666M449.8 658.69L444.57 663.91M446.66 661.82L450.32 666M452.93 661.82L459.19 661.82L459.19 660.78L458.67 659.74L458.15 659.21L457.1 658.69L455.54 658.69L454.49 659.21L453.45 660.26L452.93 661.82L452.93 662.87L453.45 664.43L454.49 665.48L455.54 666L457.1 666L458.15 665.48L459.19 664.43M461.28 655.04L465.45 666M469.63 655.04L465.45 666M471.72 652.95L472.76 653.99L473.81 655.56L474.85 657.65L475.37 660.26L475.37 662.35L474.85 664.96L473.81 667.04L472.76 668.61L471.72 669.65M23.45 423.78L22.4 424.3L21.36 425.35L20.84 426.39L20.84 428.48L21.36 429.52L22.4 430.57L23.45 431.09L25.01 431.61L27.62 431.61L29.19 431.09L30.23 430.57L31.28 429.52L31.8 428.48L31.8 426.39L31.28 425.35L30.23 424.3L29.19 423.78M20.84 420.13L31.8 420.13M26.58 420.13L25.01 418.56L24.49 417.52L24.49 415.95L25.01 414.91L26.58 414.38L31.8 414.38M24.49 404.47L31.8 404.47M26.06 404.47L25.01 405.51L24.49 406.56L24.49 408.12L25.01 409.17L26.06 410.21L27.62 410.73L28.67 410.73L30.23 410.21L31.28 409.17L31.8 408.12L31.8 406.56L31.28 405.51L30.23 404.47M24.49 400.29L31.8 400.29M26.58 400.29L25.01 398.73L24.49 397.68L24.49 396.12L25.01 395.07L26.58 394.55L31.8 394.55M24.49 384.63L32.84 384.63L34.41 385.15L34.93 385.68L35.45 386.72L35.45 388.29L34.93 389.33M26.06 384.63L25.01 385.68L24.49 386.72L24.49 388.29L25.01 389.33L26.06 390.37L27.62 390.89L28.67 390.89L30.23 390.37L31.28 389.33L31.8 388.29L31.8 386.72L31.28 385.68L30.23 384.63M27.62 380.98L27.62 374.71L26.58 374.71L25.54 375.24L25.01 375.76L24.49 376.8L24.49 378.37L25.01 379.41L26.06 380.45L27.62 380.98L28.67 380.98L30.23 380.45L31.28 379.41L31.8 378.37L31.8 376.8L31.28 375.76L30.23 374.71M20.84 363.23L21.36 362.71L20.84 362.19L20.32 362.71L20.84 363.23M24.49 362.71L31.8 362.71M24.49 358.53L31.8 358.53M26.58 358.53L25.01 356.96L24.49 355.92L24.49 354.36L25.01 353.31L26.58 352.79L31.8 352.79M27.62 340.78L27.62 334.52L26.58 334.52L25.54 335.04L25.01 335.56L24.49 336.61L24.49 338.17L25.01 339.22L26.06 340.26L27.62 340.78L28.67 340.78L30.23 340.26L31.28 339.22L31.8 338.17L31.8 336.61L31.28 335.56L30.23 334.52M24.49 330.87L31.8 330.87M26.58 330.87L25.01 329.3L24.49 328.25L24.49 326.69L25.01 325.64L26.58 325.12L31.8 325.12M27.62 321.47L27.62 315.2L26.58 315.2L25.54 315.73L25.01 316.25L24.49 317.29L24.49 318.86L25.01 319.9L26.06 320.95L27.62 321.47L28.67 321.47L30.23 320.95L31.28 319.9L31.8 318.86L31.8 317.29L31.28 316.25L30.23 315.2M24.49 311.55L31.8 311.55M27.62 311.55L26.06 311.03L25.01 309.99L24.49 308.94L24.49 307.38M24.49 299.02L32.84 299.02L34.41 299.55L34.93 300.07L35.45 301.11L35.45 302.68L34.93 303.72M26.06 299.02L25.01 300.07L24.49 301.11L24.49 302.68L25.01 303.72L26.06 304.76L27.62 305.29L28.67 305.29L30.23 304.76L31.28 303.72L31.8 302.68L31.8 301.11L31.28 300.07L30.23 299.02M24.49 295.89L31.8 292.76M24.49 289.63L31.8 292.76L33.89 293.8L34.93 294.85L35.45 295.89L35.45 296.41M18.75 274.49L19.79 275.53L21.36 276.58L23.45 277.62L26.06 278.14L28.15 278.14L30.76 277.62L32.84 276.58L34.41 275.53L35.45 274.49M27.62 271.36L27.62 265.09L26.58 265.09L25.54 265.62L25.01 266.14L24.49 267.18L24.49 268.75L25.01 269.79L26.06 270.83L27.62 271.36L28.67 271.36L30.23 270.83L31.28 269.79L31.8 268.75L31.8 267.18L31.28 266.14L30.23 265.09M20.84 263L31.8 258.83M20.84 254.65L31.8 258.83M18.75 252.56L19.79 251.52L21.36 250.48L23.45 249.43L26.06 248.91L28.15 248.91L30.76 249.43L32.84 250.48L34.41 251.52L35.45 252.56M60.59 621.04L59.02 621.56L57.98 623.13L57.46 625.74L57.46 627.3L57.98 629.91L59.02 631.48L60.59 632L61.63 632L63.2 631.48L64.24 629.91L64.77 627.3L64.77 625.74L64.24 623.13L63.2 621.56L61.63 621.04L60.59 621.04M68.42 630.96L67.9 631.48L68.42 632L68.94 631.48L68.42 630.96M73.64 623.13L74.68 622.6L76.25 621.04L76.25 632M422.91 623.13L423.96 622.6L425.52 621.04L425.52 632M774.27 623.13L775.32 622.6L776.88 621.04L776.88 632M786.28 621.04L784.71 621.56L783.67 623.13L783.15 625.74L783.15 627.3L783.67 629.91L784.71 631.48L786.28 632L787.32 632L788.89 631.48L789.93 629.91L790.45 627.3L790.45 625.74L789.93 623.13L788.89 621.56L787.32 621.04L786.28 621.04M52.1 572.42L52.1 563.02M45.84 554.15L53.15 559.37L53.15 551.54M45.84 554.15L56.8 554.15M45.84 545.8L46.36 547.36L47.93 548.41L50.54 548.93L52.1 548.93L54.71 548.41L56.28 547.36L56.8 545.8L56.8 544.75L56.28 543.19L54.71 542.14L52.1 541.62L50.54 541.62L47.93 542.14L46.36 543.19L45.84 544.75L45.84 545.8M52.1 463.78L52.1 454.38M48.45 450.21L47.93 450.21L46.88 449.68L46.36 449.16L45.84 448.12L45.84 446.03L46.36 444.99L46.88 444.46L47.93 443.94L48.97 443.94L50.01 444.46L51.58 445.51L56.8 450.73L56.8 443.42M45.84 437.16L46.36 438.72L47.93 439.77L50.54 440.29L52.1 440.29L54.71 439.77L56.28 438.72L56.8 437.16L56.8 436.11L56.28 434.55L54.71 433.5L52.1 432.98L50.54 432.98L47.93 433.5L46.36 434.55L45.84 436.11L45.84 437.16M45.84 340.52L46.36 342.09L47.93 343.13L50.54 343.65L52.1 343.65L54.71 343.13L56.28 342.09L56.8 340.52L56.8 339.48L56.28 337.91L54.71 336.87L52.1 336.35L50.54 336.35L47.93 336.87L46.36 337.91L45.84 339.48L45.84 340.52M48.45 239.71L47.93 239.71L46.88 239.19L46.36 238.67L45.84 237.62L45.84 235.54L46.36 234.49L46.88 233.97L47.93 233.45L48.97 233.45L50.01 233.97L51.58 235.01L56.8 240.23L56.8 232.93M45.84 226.66L46.36 228.23L47.93 229.27L50.54 229.79L52.1 229.79L54.71 229.27L56.28 228.23L56.8 226.66L56.8 225.62L56.28 224.05L54.71 223.01L52.1 222.49L50.54 222.49L47.93 223.01L46.36 224.05L45.84 225.62L45.84 226.66M45.84 126.37L53.15 131.59L53.15 123.76M45.84 126.37L56.8 126.37M45.84 118.02L46.36 119.59L47.93 120.63L50.54 121.15L52.1 121.15L54.71 120.63L56.28 119.59L56.8 118.02L56.8 116.98L56.28 115.41L54.71 114.37L52.1 113.85L50.54 113.85L47.93 114.37L46.36 115.41L45.84 116.98L45.84 118.02M192.49 98.83L192.49 109.8M192.49 98.83L199.8 109.8M199.8 98.83L199.8 109.8M206.07 102.49L205.02 103.01L203.98 104.05L203.46 105.62L203.46 106.67L203.98 108.23L205.02 109.28L206.07 109.8L207.64 109.8L208.68 109.28L209.73 108.23L210.25 106.67L210.25 105.62L209.73 104.05L208.68 103.01L207.64 102.49L206.07 102.49M228.01 104.05L226.96 103.01L225.92 102.49L224.35 102.49L223.3 103.01L222.26 104.05L221.74 105.62L221.74 106.67L222.26 108.23L223.3 109.28L224.35 109.8L225.92 109.8L226.96 109.28L228.01 108.23M231.66 98.83L231.66 109.8M231.66 104.58L233.23 103.01L234.27 102.49L235.84 102.49L236.88 103.01L237.41 104.58L237.41 109.8M247.33 102.49L247.33 109.8M247.33 104.05L246.29 103.01L245.24 102.49L243.67 102.49L242.63 103.01L241.59 104.05L241.06 105.62L241.06 106.67L241.59 108.23L242.63 109.28L243.67 109.8L245.24 109.8L246.29 109.28L247.33 108.23M251.51 102.49L251.51 109.8M251.51 104.58L253.08 103.01L254.12 102.49L255.69 102.49L256.73 103.01L257.25 104.58L257.25 109.8M267.18 102.49L267.18 110.84L266.66 112.41L266.13 112.93L265.09 113.46L263.52 113.46L262.48 112.93M267.18 104.05L266.13 103.01L265.09 102.49L263.52 102.49L262.48 103.01L261.43 104.05L260.91 105.62L260.91 106.67L261.43 108.23L262.48 109.28L263.52 109.8L265.09 109.8L266.13 109.28L267.18 108.23M270.83 105.62L277.1 105.62L277.1 104.58L276.58 103.53L276.06 103.01L275.01 102.49L273.45 102.49L272.4 103.01L271.36 104.05L270.83 105.62L270.83 106.67L271.36 108.23L272.4 109.28L273.45 109.8L275.01 109.8L276.06 109.28L277.1 108.23M292.77 96.74L291.73 97.79L290.68 99.35L289.64 101.44L289.11 104.05L289.11 106.14L289.64 108.76L290.68 110.84L291.73 112.41L292.77 113.46M296.43 101.44L296.43 100.92L296.95 99.88L297.47 99.35L298.52 98.83L300.61 98.83L301.65 99.35L302.17 99.88L302.69 100.92L302.69 101.97L302.17 103.01L301.13 104.58L295.9 109.8L303.22 109.8M309.48 98.83L307.92 99.35L306.87 100.92L306.35 103.53L306.35 105.1L306.87 107.71L307.92 109.28L309.48 109.8L310.53 109.8L312.1 109.28L313.14 107.71L313.66 105.1L313.66 103.53L313.14 100.92L312.1 99.35L310.53 98.83L309.48 98.83M319.93 98.83L318.36 99.35L317.32 100.92L316.8 103.53L316.8 105.1L317.32 107.71L318.36 109.28L319.93 109.8L320.98 109.8L322.54 109.28L323.59 107.71L324.11 105.1L324.11 103.53L323.59 100.92L322.54 99.35L320.98 98.83L319.93 98.83M330.38 98.83L328.81 99.35L327.76 100.92L327.24 103.53L327.24 105.1L327.76 107.71L328.81 109.28L330.38 109.8L331.42 109.8L332.99 109.28L334.03 107.71L334.55 105.1L334.55 103.53L334.03 100.92L332.99 99.35L331.42 98.83L330.38 98.83M338.21 105.1L347.61 105.1M354.4 98.83L352.84 99.35L351.79 100.92L351.27 103.53L351.27 105.1L351.79 107.71L352.84 109.28L354.4 109.8L355.45 109.8L357.01 109.28L358.06 107.71L358.58 105.1L358.58 103.53L358.06 100.92L357.01 99.35L355.45 98.83L354.4 98.83M363.28 100.92L364.33 100.4L365.89 98.83L365.89 109.8M372.68 105.1L382.08 105.1M386.26 101.44L386.26 100.92L386.78 99.88L387.31 99.35L388.35 98.83L390.44 98.83L391.49 99.35L392.01 99.88L392.53 100.92L392.53 101.97L392.01 103.01L390.96 104.58L385.74 109.8L393.05 109.8M402.98 102.49L402.45 104.05L401.41 105.1L399.84 105.62L399.32 105.62L397.75 105.1L396.71 104.05L396.19 102.49L396.19 101.97L396.71 100.4L397.75 99.35L399.32 98.83L399.84 98.83L401.41 99.35L402.45 100.4L402.98 102.49L402.98 105.1L402.45 107.71L401.41 109.28L399.84 109.8L398.8 109.8L397.23 109.28L396.71 108.23M406.63 96.74L407.68 97.79L408.72 99.35L409.77 101.44L410.29 104.05L410.29 106.14L409.77 108.76L408.72 110.84L407.68 112.41L406.63 113.46M197.9 129.53L197.9 136.9M197.9 131.11L196.84 130.06L195.79 129.53L194.21 129.53L193.16 130.06L192.11 131.11L191.58 132.69L191.58 133.74L192.11 135.32L193.16 136.37L194.21 136.9L195.79 136.9L196.84 136.37L197.9 135.32M207.9 131.11L206.85 130.06L205.79 129.53L204.22 129.53L203.16 130.06L202.11 131.11L201.58 132.69L201.58 133.74L202.11 135.32L203.16 136.37L204.22 136.9L205.79 136.9L206.85 136.37L207.9 135.32M211.06 125.84L211.59 126.37L212.11 125.84L211.59 125.32L211.06 125.84M211.59 129.53L211.59 136.9M221.06 131.11L220.54 130.06L218.96 129.53L217.38 129.53L215.8 130.06L215.27 131.11L215.8 132.16L216.85 132.69L219.48 133.21L220.54 133.74L221.06 134.79L221.06 135.32L220.54 136.37L218.96 136.9L217.38 136.9L215.8 136.37L215.27 135.32M224.75 125.84L224.75 136.9M224.75 125.84L228.43 125.84L230.01 126.37L231.07 127.42L231.59 128.48L232.12 130.06L232.12 132.69L231.59 134.27L231.07 135.32L230.01 136.37L228.43 136.9L224.75 136.9M236.86 127.95L237.91 127.42L239.49 125.84L239.49 136.9M252.65 129.53L252.13 131.11L251.07 132.16L249.49 132.69L248.97 132.69L247.39 132.16L246.34 131.11L245.81 129.53L245.81 129L246.34 127.42L247.39 126.37L248.97 125.84L249.49 125.84L251.07 126.37L252.13 127.42L252.65 129.53L252.65 132.16L252.13 134.79L251.07 136.37L249.49 136.9L248.44 136.9L246.86 136.37L246.34 135.32M263.18 129.53L262.66 131.11L261.6 132.16L260.02 132.69L259.5 132.69L257.92 132.16L256.87 131.11L256.34 129.53L256.34 129L256.87 127.42L257.92 126.37L259.5 125.84L260.02 125.84L261.6 126.37L262.66 127.42L263.18 129.53L263.18 132.16L262.66 134.79L261.6 136.37L260.02 136.9L258.97 136.9L257.39 136.37L256.87 135.32M273.71 129.53L273.19 131.11L272.13 132.16L270.55 132.69L270.03 132.69L268.45 132.16L267.4 131.11L266.87 129.53L266.87 129L267.4 127.42L268.45 126.37L270.03 125.84L270.55 125.84L272.13 126.37L273.19 127.42L273.71 129.53L273.71 132.16L273.19 134.79L272.13 136.37L270.55 136.9L269.5 136.9L267.92 136.37L267.4 135.32M277.93 132.16L287.4 132.16M294.25 125.84L292.67 126.37L291.61 127.95L291.09 130.58L291.09 132.16L291.61 134.79L292.67 136.37L294.25 136.9L295.3 136.9L296.88 136.37L297.93 134.79L298.46 132.16L298.46 130.58L297.93 127.95L296.88 126.37L295.3 125.84L294.25 125.84M308.46 129.53L307.94 131.11L306.88 132.16L305.3 132.69L304.78 132.69L303.2 132.16L302.14 131.11L301.62 129.53L301.62 129L302.14 127.42L303.2 126.37L304.78 125.84L305.3 125.84L306.88 126.37L307.94 127.42L308.46 129.53L308.46 132.16L307.94 134.79L306.88 136.37L305.3 136.9L304.25 136.9L302.67 136.37L302.14 135.32M312.67 132.16L322.15 132.16M327.42 127.95L328.47 127.42L330.05 125.84L330.05 136.9M343.21 127.42L342.69 126.37L341.11 125.84L340.05 125.84L338.47 126.37L337.42 127.95L336.89 130.58L336.89 133.21L337.42 135.32L338.47 136.37L340.05 136.9L340.58 136.9L342.16 136.37L343.21 135.32L343.74 133.74L343.74 133.21L343.21 131.64L342.16 130.58L340.58 130.06L340.05 130.06L338.47 130.58L337.42 131.64L336.89 133.21M347.95 125.84L347.95 134.79L348.48 136.37L349.53 136.9L350.58 136.9M346.37 129.53L350.06 129.53M351.64 140.59L361.11 140.59M369.01 129.53L369.01 137.95L368.48 139.53L367.96 140.06L366.9 140.59L365.32 140.59L364.27 140.06M369.01 131.11L367.96 130.06L366.9 129.53L365.32 129.53L364.27 130.06L363.22 131.11L362.69 132.69L362.69 133.74L363.22 135.32L364.27 136.37L365.32 136.9L366.9 136.9L367.96 136.37L369.01 135.32M379.01 129.53L379.01 136.9M379.01 131.11L377.96 130.06L376.91 129.53L375.33 129.53L374.27 130.06L373.22 131.11L372.7 132.69L372.7 133.74L373.22 135.32L374.27 136.37L375.33 136.9L376.91 136.9L377.96 136.37L379.01 135.32M382.7 125.84L383.23 126.37L383.75 125.84L383.23 125.32L382.7 125.84M383.23 129.53L383.23 136.9M387.44 129.53L387.44 136.9M387.44 131.64L389.02 130.06L390.07 129.53L391.65 129.53L392.7 130.06L393.23 131.64L393.23 136.9M397.44 125.84L397.44 136.9M397.44 125.84L404.81 136.9M404.81 125.84L404.81 136.9M411.66 125.84L410.08 126.37L409.02 127.95L408.5 130.58L408.5 132.16L409.02 134.79L410.08 136.37L411.66 136.9L412.71 136.9L414.29 136.37L415.34 134.79L415.87 132.16L415.87 130.58L415.34 127.95L414.29 126.37L412.71 125.84L411.66 125.84M422.19 125.84L420.61 126.37L419.55 127.95L419.03 130.58L419.03 132.16L419.55 134.79L420.61 136.37L422.19 136.9L423.24 136.9L424.82 136.37L425.87 134.79L426.4 132.16L426.4 130.58L425.87 127.95L424.82 126.37L423.24 125.84L422.19 125.84M432.72 125.84L431.14 126.37L430.08 127.95L429.56 130.58L429.56 132.16L430.08 134.79L431.14 136.37L432.72 136.9L433.77 136.9L435.35 136.37L436.4 134.79L436.93 132.16L436.93 130.58L436.4 127.95L435.35 126.37L433.77 125.84L432.72 125.84M446.41 125.84L441.14 125.84L440.61 130.58L441.14 130.06L442.72 129.53L444.3 129.53L445.88 130.06L446.93 131.11L447.46 132.69L447.46 133.74L446.93 135.32L445.88 136.37L444.3 136.9L442.72 136.9L441.14 136.37L440.61 135.85L440.09 134.79M451.14 135.85L450.62 136.37L451.14 136.9L451.67 136.37L451.14 135.85M458.51 125.84L457.46 125.84L456.41 126.37L455.88 127.95L455.88 136.9M454.3 129.53L457.99 129.53M461.15 125.84L461.67 126.37L462.2 125.84L461.67 125.32L461.15 125.84M461.67 129.53L461.67 136.9M466.41 125.84L466.41 134.79L466.94 136.37L467.99 136.9L469.04 136.9M464.83 129.53L468.52 129.53M477.47 131.11L476.94 130.06L475.36 129.53L473.78 129.53L472.2 130.06L471.68 131.11L472.2 132.16L473.26 132.69L475.89 133.21L476.94 133.74L477.47 134.79L477.47 135.32L476.94 136.37L475.36 136.9L473.78 136.9L472.2 136.37L471.68 135.32M197.9 156.63L197.9 164M197.9 158.21L196.84 157.16L195.79 156.63L194.21 156.63L193.16 157.16L192.11 158.21L191.58 159.79L191.58 160.84L192.11 162.42L193.16 163.47L194.21 164L195.79 164L196.84 163.47L197.9 162.42M207.9 158.21L206.85 157.16L205.79 156.63L204.22 156.63L203.16 157.16L202.11 158.21L201.58 159.79L201.58 160.84L202.11 162.42L203.16 163.47L204.22 164L205.79 164L206.85 163.47L207.9 162.42M211.06 152.94L211.59 153.47L212.11 152.94L211.59 152.42L211.06 152.94M211.59 156.63L211.59 164M221.06 158.21L220.54 157.16L218.96 156.63L217.38 156.63L215.8 157.16L215.27 158.21L215.8 159.26L216.85 159.79L219.48 160.31L220.54 160.84L221.06 161.89L221.06 162.42L220.54 163.47L218.96 164L217.38 164L215.8 163.47L215.27 162.42M224.75 152.94L224.75 164M224.75 152.94L228.43 152.94L230.01 153.47L231.07 154.52L231.59 155.58L232.12 157.16L232.12 159.79L231.59 161.37L231.07 162.42L230.01 163.47L228.43 164L224.75 164M235.81 155.58L235.81 155.05L236.33 154L236.86 153.47L237.91 152.94L240.02 152.94L241.07 153.47L241.6 154L242.12 155.05L242.12 156.1L241.6 157.16L240.54 158.74L235.28 164L242.65 164M248.97 152.94L247.39 153.47L246.34 155.05L245.81 157.68L245.81 159.26L246.34 161.89L247.39 163.47L248.97 164L250.02 164L251.6 163.47L252.65 161.89L253.18 159.26L253.18 157.68L252.65 155.05L251.6 153.47L250.02 152.94L248.97 152.94M259.5 152.94L257.92 153.47L256.87 155.05L256.34 157.68L256.34 159.26L256.87 161.89L257.92 163.47L259.5 164L260.55 164L262.13 163.47L263.18 161.89L263.71 159.26L263.71 157.68L263.18 155.05L262.13 153.47L260.55 152.94L259.5 152.94M270.03 152.94L268.45 153.47L267.4 155.05L266.87 157.68L266.87 159.26L267.4 161.89L268.45 163.47L270.03 164L271.08 164L272.66 163.47L273.71 161.89L274.24 159.26L274.24 157.68L273.71 155.05L272.66 153.47L271.08 152.94L270.03 152.94M277.93 159.26L287.4 159.26M294.25 152.94L292.67 153.47L291.61 155.05L291.09 157.68L291.09 159.26L291.61 161.89L292.67 163.47L294.25 164L295.3 164L296.88 163.47L297.93 161.89L298.46 159.26L298.46 157.68L297.93 155.05L296.88 153.47L295.3 152.94L294.25 152.94M307.94 152.94L302.67 152.94L302.14 157.68L302.67 157.16L304.25 156.63L305.83 156.63L307.41 157.16L308.46 158.21L308.99 159.79L308.99 160.84L308.46 162.42L307.41 163.47L305.83 164L304.25 164L302.67 163.47L302.14 162.95L301.62 161.89M312.67 159.26L322.15 159.26M329 152.94L327.42 153.47L326.36 155.05L325.84 157.68L325.84 159.26L326.36 161.89L327.42 163.47L329 164L330.05 164L331.63 163.47L332.68 161.89L333.21 159.26L333.21 157.68L332.68 155.05L331.63 153.47L330.05 152.94L329 152.94M337.95 155.05L339 154.52L340.58 152.94L340.58 164M347.95 152.94L347.95 161.89L348.48 163.47L349.53 164L350.58 164M346.37 156.63L350.06 156.63M351.64 167.69L361.11 167.69M369.01 156.63L369.01 165.05L368.48 166.63L367.96 167.16L366.9 167.69L365.32 167.69L364.27 167.16M369.01 158.21L367.96 157.16L366.9 156.63L365.32 156.63L364.27 157.16L363.22 158.21L362.69 159.79L362.69 160.84L363.22 162.42L364.27 163.47L365.32 164L366.9 164L367.96 163.47L369.01 162.42M379.01 156.63L379.01 164M379.01 158.21L377.96 157.16L376.91 156.63L375.33 156.63L374.27 157.16L373.22 158.21L372.7 159.79L372.7 160.84L373.22 162.42L374.27 163.47L375.33 164L376.91 164L377.96 163.47L379.01 162.42M382.7 152.94L383.23 153.47L383.75 152.94L383.23 152.42L382.7 152.94M383.23 156.63L383.23 164M387.44 156.63L387.44 164M387.44 158.74L389.02 157.16L390.07 156.63L391.65 156.63L392.7 157.16L393.23 158.74L393.23 164M397.44 152.94L397.44 164M397.44 152.94L404.81 164M404.81 152.94L404.81 164M411.66 152.94L410.08 153.47L409.02 155.05L408.5 157.68L408.5 159.26L409.02 161.89L410.08 163.47L411.66 164L412.71 164L414.29 163.47L415.34 161.89L415.87 159.26L415.87 157.68L415.34 155.05L414.29 153.47L412.71 152.94L411.66 152.94M422.19 152.94L420.61 153.47L419.55 155.05L419.03 157.68L419.03 159.26L419.55 161.89L420.61 163.47L422.19 164L423.24 164L424.82 163.47L425.87 161.89L426.4 159.26L426.4 157.68L425.87 155.05L424.82 153.47L423.24 152.94L422.19 152.94M432.72 152.94L431.14 153.47L430.08 155.05L429.56 157.68L429.56 159.26L430.08 161.89L431.14 163.47L432.72 164L433.77 164L435.35 163.47L436.4 161.89L436.93 159.26L436.93 157.68L436.4 155.05L435.35 153.47L433.77 152.94L432.72 152.94M446.41 152.94L441.14 152.94L440.61 157.68L441.14 157.16L442.72 156.63L444.3 156.63L445.88 157.16L446.93 158.21L447.46 159.79L447.46 160.84L446.93 162.42L445.88 163.47L444.3 164L442.72 164L441.14 163.47L440.61 162.95L440.09 161.89M451.14 162.95L450.62 163.47L451.14 164L451.67 163.47L451.14 162.95M458.51 152.94L457.46 152.94L456.41 153.47L455.88 155.05L455.88 164M454.3 156.63L457.99 156.63M461.15 152.94L461.67 153.47L462.2 152.94L461.67 152.42L461.15 152.94M461.67 156.63L461.67 164M466.41 152.94L466.41 161.89L466.94 163.47L467.99 164L469.04 164M464.83 156.63L468.52 156.63M477.47 158.21L476.94 157.16L475.36 156.63L473.78 156.63L472.2 157.16L471.68 158.21L472.2 159.26L473.26 159.79L475.89 160.31L476.94 160.84L477.47 161.89L477.47 162.42L476.94 163.47L475.36 164L473.78 164L472.2 163.47L471.68 162.42M197.9 183.73L197.9 191.1M197.9 185.31L196.84 184.26L195.79 183.73L194.21 183.73L193.16 184.26L192.11 185.31L191.58 186.89L191.58 187.94L192.11 189.52L193.16 190.57L194.21 191.1L195.79 191.1L196.84 190.57L197.9 189.52M207.9 185.31L206.85 184.26L205.79 183.73L204.22 183.73L203.16 184.26L202.11 185.31L201.58 186.89L201.58 187.94L202.11 189.52L203.16 190.57L204.22 191.1L205.79 191.1L206.85 190.57L207.9 189.52M211.06 180.04L211.59 180.57L212.11 180.04L211.59 179.52L211.06 180.04M211.59 183.73L211.59 191.1M221.06 185.31L220.54 184.26L218.96 183.73L217.38 183.73L215.8 184.26L215.27 185.31L215.8 186.36L216.85 186.89L219.48 187.41L220.54 187.94L221.06 188.99L221.06 189.52L220.54 190.57L218.96 191.1L217.38 191.1L215.8 190.57L215.27 189.52M224.75 180.04L224.75 191.1M224.75 180.04L228.43 180.04L230.01 180.57L231.07 181.62L231.59 182.68L232.12 184.26L232.12 186.89L231.59 188.47L231.07 189.52L230.01 190.57L228.43 191.1L224.75 191.1M235.81 182.68L235.81 182.15L236.33 181.1L236.86 180.57L237.91 180.04L240.02 180.04L241.07 180.57L241.6 181.1L242.12 182.15L242.12 183.2L241.6 184.26L240.54 185.84L235.28 191.1L242.65 191.1M248.97 180.04L247.39 180.57L246.34 182.15L245.81 184.78L245.81 186.36L246.34 188.99L247.39 190.57L248.97 191.1L250.02 191.1L251.6 190.57L252.65 188.99L253.18 186.36L253.18 184.78L252.65 182.15L251.6 180.57L250.02 180.04L248.97 180.04M259.5 180.04L257.92 180.57L256.87 182.15L256.34 184.78L256.34 186.36L256.87 188.99L257.92 190.57L259.5 191.1L260.55 191.1L262.13 190.57L263.18 188.99L263.71 186.36L263.71 184.78L263.18 182.15L262.13 180.57L260.55 180.04L259.5 180.04M270.03 180.04L268.45 180.57L267.4 182.15L266.87 184.78L266.87 186.36L267.4 188.99L268.45 190.57L270.03 191.1L271.08 191.1L272.66 190.57L273.71 188.99L274.24 186.36L274.24 184.78L273.71 182.15L272.66 180.57L271.08 180.04L270.03 180.04M277.93 186.36L287.4 186.36M294.25 180.04L292.67 180.57L291.61 182.15L291.09 184.78L291.09 186.36L291.61 188.99L292.67 190.57L294.25 191.1L295.3 191.1L296.88 190.57L297.93 188.99L298.46 186.36L298.46 184.78L297.93 182.15L296.88 180.57L295.3 180.04L294.25 180.04M304.25 180.04L302.67 180.57L302.14 181.62L302.14 182.68L302.67 183.73L303.72 184.26L305.83 184.78L307.41 185.31L308.46 186.36L308.99 187.41L308.99 188.99L308.46 190.05L307.94 190.57L306.36 191.1L304.25 191.1L302.67 190.57L302.14 190.05L301.62 188.99L301.62 187.41L302.14 186.36L303.2 185.31L304.78 184.78L306.88 184.26L307.94 183.73L308.46 182.68L308.46 181.62L307.94 180.57L306.36 180.04L304.25 180.04M312.67 186.36L322.15 186.36M329 180.04L327.42 180.57L326.36 182.15L325.84 184.78L325.84 186.36L326.36 188.99L327.42 190.57L329 191.1L330.05 191.1L331.63 190.57L332.68 188.99L333.21 186.36L333.21 184.78L332.68 182.15L331.63 180.57L330.05 180.04L329 180.04M337.95 182.15L339 181.62L340.58 180.04L340.58 191.1M347.95 180.04L347.95 188.99L348.48 190.57L349.53 191.1L350.58 191.1M346.37 183.73L350.06 183.73M351.64 194.79L361.11 194.79M369.01 183.73L369.01 192.15L368.48 193.73L367.96 194.26L366.9 194.79L365.32 194.79L364.27 194.26M369.01 185.31L367.96 184.26L366.9 183.73L365.32 183.73L364.27 184.26L363.22 185.31L362.69 186.89L362.69 187.94L363.22 189.52L364.27 190.57L365.32 191.1L366.9 191.1L367.96 190.57L369.01 189.52M379.01 183.73L379.01 191.1M379.01 185.31L377.96 184.26L376.91 183.73L375.33 183.73L374.27 184.26L373.22 185.31L372.7 186.89L372.7 187.94L373.22 189.52L374.27 190.57L375.33 191.1L376.91 191.1L377.96 190.57L379.01 189.52M382.7 180.04L383.23 180.57L383.75 180.04L383.23 179.52L382.7 180.04M383.23 183.73L383.23 191.1M387.44 183.73L387.44 191.1M387.44 185.84L389.02 184.26L390.07 183.73L391.65 183.73L392.7 184.26L393.23 185.84L393.23 191.1M397.44 180.04L397.44 191.1M397.44 180.04L404.81 191.1M404.81 180.04L404.81 191.1M411.66 180.04L410.08 180.57L409.02 182.15L408.5 184.78L408.5 186.36L409.02 188.99L410.08 190.57L411.66 191.1L412.71 191.1L414.29 190.57L415.34 188.99L415.87 186.36L415.87 184.78L415.34 182.15L414.29 180.57L412.71 180.04L411.66 180.04M422.19 180.04L420.61 180.57L419.55 182.15L419.03 184.78L419.03 186.36L419.55 188.99L420.61 190.57L422.19 191.1L423.24 191.1L424.82 190.57L425.87 188.99L426.4 186.36L426.4 184.78L425.87 182.15L424.82 180.57L423.24 180.04L422.19 180.04M432.72 180.04L431.14 180.57L430.08 182.15L429.56 184.78L429.56 186.36L430.08 188.99L431.14 190.57L432.72 191.1L433.77 191.1L435.35 190.57L436.4 188.99L436.93 186.36L436.93 184.78L436.4 182.15L435.35 180.57L433.77 180.04L432.72 180.04M446.41 180.04L441.14 180.04L440.61 184.78L441.14 184.26L442.72 183.73L444.3 183.73L445.88 184.26L446.93 185.31L447.46 186.89L447.46 187.94L446.93 189.52L445.88 190.57L444.3 191.1L442.72 191.1L441.14 190.57L440.61 190.05L440.09 188.99M451.14 190.05L450.62 190.57L451.14 191.1L451.67 190.57L451.14 190.05M458.51 180.04L457.46 180.04L456.41 180.57L455.88 182.15L455.88 191.1M454.3 183.73L457.99 183.73M461.15 180.04L461.67 180.57L462.2 180.04L461.67 179.52L461.15 180.04M461.67 183.73L461.67 191.1M466.41 180.04L466.41 188.99L466.94 190.57L467.99 191.1L469.04 191.1M464.83 183.73L468.52 183.73M477.47 185.31L476.94 184.26L475.36 183.73L473.78 183.73L472.2 184.26L471.68 185.31L472.2 186.36L473.26 186.89L475.89 187.41L476.94 187.94L477.47 188.99L477.47 189.52L476.94 190.57L475.36 191.1L473.78 191.1L472.2 190.57L471.68 189.52M197.9 210.83L197.9 218.2M197.9 212.41L196.84 211.36L195.79 210.83L194.21 210.83L193.16 211.36L192.11 212.41L191.58 213.99L191.58 215.04L192.11 216.62L193.16 217.67L194.21 218.2L195.79 218.2L196.84 217.67L197.9 216.62M207.9 212.41L206.85 211.36L205.79 210.83L204.22 210.83L203.16 211.36L202.11 212.41L201.58 213.99L201.58 215.04L202.11 216.62L203.16 217.67L204.22 218.2L205.79 218.2L206.85 217.67L207.9 216.62M211.06 207.14L211.59 207.67L212.11 207.14L211.59 206.62L211.06 207.14M211.59 210.83L211.59 218.2M221.06 212.41L220.54 211.36L218.96 210.83L217.38 210.83L215.8 211.36L215.27 212.41L215.8 213.46L216.85 213.99L219.48 214.51L220.54 215.04L221.06 216.09L221.06 216.62L220.54 217.67L218.96 218.2L217.38 218.2L215.8 217.67L215.27 216.62M224.75 207.14L224.75 218.2M224.75 207.14L228.43 207.14L230.01 207.67L231.07 208.72L231.59 209.78L232.12 211.36L232.12 213.99L231.59 215.57L231.07 216.62L230.01 217.67L228.43 218.2L224.75 218.2M235.81 209.78L235.81 209.25L236.33 208.2L236.86 207.67L237.91 207.14L240.02 207.14L241.07 207.67L241.6 208.2L242.12 209.25L242.12 210.3L241.6 211.36L240.54 212.94L235.28 218.2L242.65 218.2M248.97 207.14L247.39 207.67L246.34 209.25L245.81 211.88L245.81 213.46L246.34 216.09L247.39 217.67L248.97 218.2L250.02 218.2L251.6 217.67L252.65 216.09L253.18 213.46L253.18 211.88L252.65 209.25L251.6 207.67L250.02 207.14L248.97 207.14M259.5 207.14L257.92 207.67L256.87 209.25L256.34 211.88L256.34 213.46L256.87 216.09L257.92 217.67L259.5 218.2L260.55 218.2L262.13 217.67L263.18 216.09L263.71 213.46L263.71 211.88L263.18 209.25L262.13 207.67L260.55 207.14L259.5 207.14M270.03 207.14L268.45 207.67L267.4 209.25L266.87 211.88L266.87 213.46L267.4 216.09L268.45 217.67L270.03 218.2L271.08 218.2L272.66 217.67L273.71 216.09L274.24 213.46L274.24 211.88L273.71 209.25L272.66 207.67L271.08 207.14L270.03 207.14M277.93 213.46L287.4 213.46M292.67 209.25L293.72 208.72L295.3 207.14L295.3 218.2M303.2 209.25L304.25 208.72L305.83 207.14L305.83 218.2M312.67 213.46L322.15 213.46M329 207.14L327.42 207.67L326.36 209.25L325.84 211.88L325.84 213.46L326.36 216.09L327.42 217.67L329 218.2L330.05 218.2L331.63 217.67L332.68 216.09L333.21 213.46L333.21 211.88L332.68 209.25L331.63 207.67L330.05 207.14L329 207.14M337.95 209.25L339 208.72L340.58 207.14L340.58 218.2M347.95 207.14L347.95 216.09L348.48 217.67L349.53 218.2L350.58 218.2M346.37 210.83L350.06 210.83M351.64 221.89L361.11 221.89M369.01 210.83L369.01 219.25L368.48 220.83L367.96 221.36L366.9 221.89L365.32 221.89L364.27 221.36M369.01 212.41L367.96 211.36L366.9 210.83L365.32 210.83L364.27 211.36L363.22 212.41L362.69 213.99L362.69 215.04L363.22 216.62L364.27 217.67L365.32 218.2L366.9 218.2L367.96 217.67L369.01 216.62M379.01 210.83L379.01 218.2M379.01 212.41L377.96 211.36L376.91 210.83L375.33 210.83L374.27 211.36L373.22 212.41L372.7 213.99L372.7 215.04L373.22 216.62L374.27 217.67L375.33 218.2L376.91 218.2L377.96 217.67L379.01 216.62M382.7 207.14L383.23 207.67L383.75 207.14L383.23 206.62L382.7 207.14M383.23 210.83L383.23 218.2M387.44 210.83L387.44 218.2M387.44 212.94L389.02 211.36L390.07 210.83L391.65 210.83L392.7 211.36L393.23 212.94L393.23 218.2M397.44 207.14L397.44 218.2M397.44 207.14L404.81 218.2M404.81 207.14L404.81 218.2M411.66 207.14L410.08 207.67L409.02 209.25L408.5 211.88L408.5 213.46L409.02 216.09L410.08 217.67L411.66 218.2L412.71 218.2L414.29 217.67L415.34 216.09L415.87 213.46L415.87 211.88L415.34 209.25L414.29 207.67L412.71 207.14L411.66 207.14M422.19 207.14L420.61 207.67L419.55 209.25L419.03 211.88L419.03 213.46L419.55 216.09L420.61 217.67L422.19 218.2L423.24 218.2L424.82 217.67L425.87 216.09L426.4 213.46L426.4 211.88L425.87 209.25L424.82 207.67L423.24 207.14L422.19 207.14M432.72 207.14L431.14 207.67L430.08 209.25L429.56 211.88L429.56 213.46L430.08 216.09L431.14 217.67L432.72 218.2L433.77 218.2L435.35 217.67L436.4 216.09L436.93 213.46L436.93 211.88L436.4 209.25L435.35 207.67L433.77 207.14L432.72 207.14M446.41 207.14L441.14 207.14L440.61 211.88L441.14 211.36L442.72 210.83L444.3 210.83L445.88 211.36L446.93 212.41L447.46 213.99L447.46 215.04L446.93 216.62L445.88 217.67L444.3 218.2L442.72 218.2L441.14 217.67L440.61 217.15L440.09 216.09M451.14 217.15L450.62 217.67L451.14 218.2L451.67 217.67L451.14 217.15M458.51 207.14L457.46 207.14L456.41 207.67L455.88 209.25L455.88 218.2M454.3 210.83L457.99 210.83M461.15 207.14L461.67 207.67L462.2 207.14L461.67 206.62L461.15 207.14M461.67 210.83L461.67 218.2M466.41 207.14L466.41 216.09L466.94 217.67L467.99 218.2L469.04 218.2M464.83 210.83L468.52 210.83M477.47 212.41L476.94 211.36L475.36 210.83L473.78 210.83L472.2 211.36L471.68 212.41L472.2 213.46L473.26 213.99L475.89 214.51L476.94 215.04L477.47 216.09L477.47 216.62L476.94 217.67L475.36 218.2L473.78 218.2L472.2 217.67L471.68 216.62"/>
</g>
</svg>
</body></html>
